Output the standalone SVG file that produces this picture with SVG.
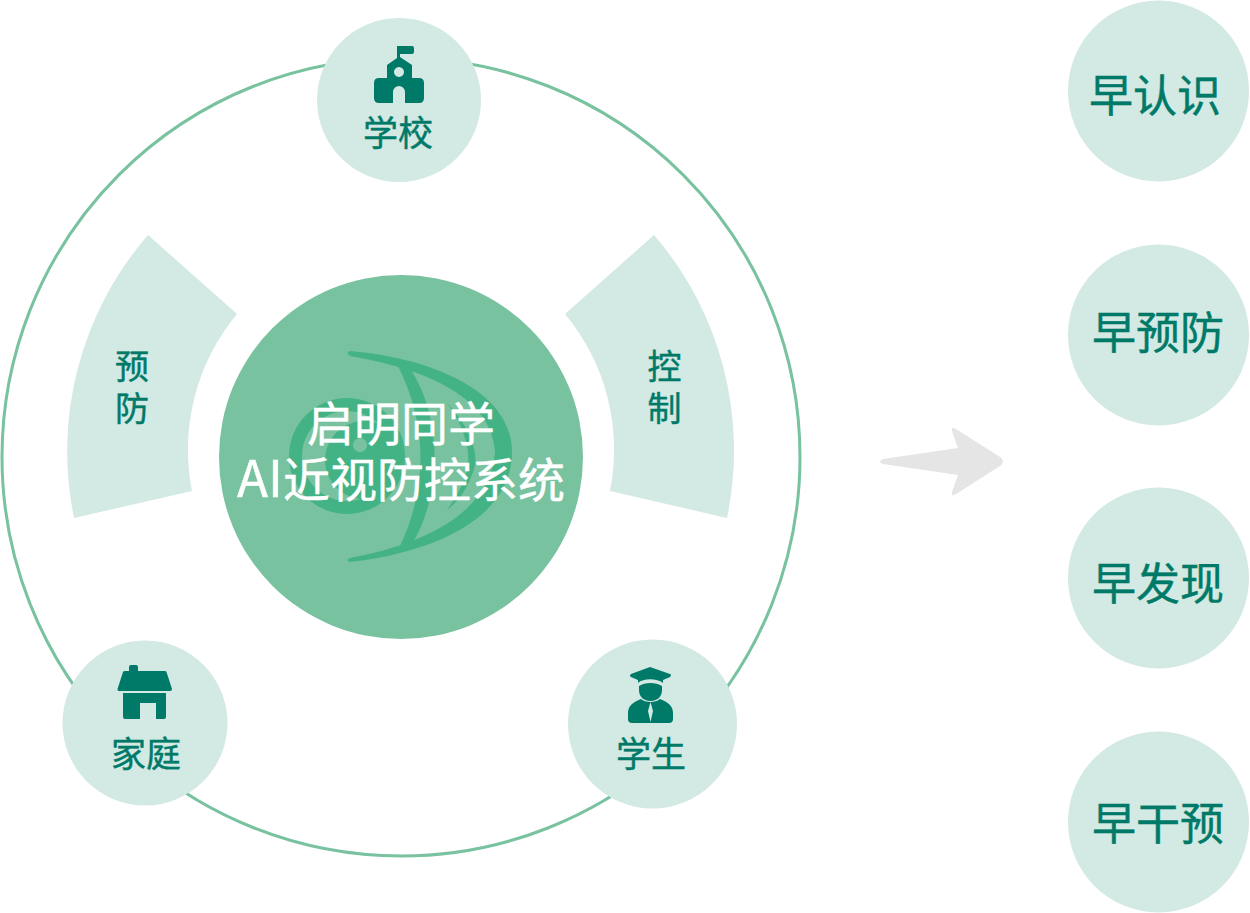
<svg xmlns="http://www.w3.org/2000/svg" width="1250" height="913" viewBox="0 0 1250 913">
<style>
.c{fill:#d3e9e3}
.t{font-family:"Noto Sans CJK SC","Noto Sans",sans-serif;fill:#007a68;stroke:#007a68;stroke-width:.45px;text-anchor:middle;font-weight:400}
.e{fill:#43b385}
.w{font-family:"Noto Sans CJK SC","Noto Sans",sans-serif;fill:#fff;stroke:#fff;stroke-width:.45px;text-anchor:middle;font-size:47px;font-weight:400}
.i{fill:#007a68}
</style>
<rect width="1250" height="913" fill="#fff"/>
<g id="connectors">
<circle cx="401" cy="457" r="399" fill="none" stroke="#78c2a0" stroke-width="3"/>
<path id="arrow" d="M883 459L958 448L952 431Q951 426 956 429L1000 457Q1006 461 1000 466L956 494Q951 497 952 492L958 475L883 464Q877 461.500 883 459Z" fill="#e5e5e5"/>
</g>
<g id="center">
<circle cx="401" cy="457" r="182" fill="#78c2a0"/>
<g id="eye">
<path class="e" fill-rule="evenodd" d="M347 398a58 58 0 1 0 .01 0ZM347 411a45 45 0 1 1 -.01 0Z"/>
<path class="e" fill-rule="evenodd" d="M364 421a39 39 0 1 0 .01 0ZM360 438a7 7 0 1 1 -.01 0Z"/>
<path class="e" d="M350 351C430 358 512 390 512 452C512 520 430 553 350 562Q345 560 350 558C420 545 490 515 495 452C492 395 420 368 350 356Q345 353 350 351Z"/>
<path class="e" d="M398 366L411 370C440 415 445 490 411 546L398 550C428 490 428 425 398 366Z"/>
<path class="e" d="M447 403C468 425 478 450 475 465C470 485 460 500 447 510C462 490 470 470 468 452C466 435 458 418 447 403Z"/>
</g>
<text class="w" x="401" y="441">启明同学</text>
<text class="w" x="401" y="497"><tspan font-size="51">AI</tspan>近视防控系统</text>
</g>
<g id="prevent">
<path class="c" d="M148 235L237 314A212 212 0 0 0 192 491L74 518A330 330 0 0 1 148 235Z"/>
<text class="t" x="132" y="379" font-size="34">预</text>
<text class="t" x="132" y="421" font-size="34">防</text>
</g>
<g id="control">
<path class="c" d="M654 235L565 314A212 212 0 0 1 610 491L727 518A330 330 0 0 0 654 235Z"/>
<text class="t" x="664.500" y="379" font-size="34">控</text>
<text class="t" x="664.500" y="421" font-size="34">制</text>
</g>
<g id="school">
<circle class="c" cx="399" cy="100" r="82"/>
<path class="i" fill-rule="evenodd" d="M397 46H412Q414 46 414 48V52Q414 54 412 54H400V57L412 65V78H419Q424 78 424 83V98Q424 103 419 103H405V92A6 6 0 0 0 393 92V103H379Q374 103 374 98V83Q374 78 379 78H387V65L397 58ZM399 67A5 5 0 1 0 399.010 67Z"/>
<text class="t" x="398" y="146" font-size="35">学校</text>
</g>
<g id="home">
<circle class="c" cx="145" cy="723" r="82.500"/>
<path class="i" d="M129 671V667Q129 665 131 665H136Q138 665 138 667V671H165Q166 671 166.500 672L172 689Q172 691 170 691H119Q117 691 117.500 689L123 672Q123.500 671 125 671Z"/>
<path class="i" d="M123 693H166V717Q166 719 164 719H156V703H140V719H125Q123 719 123 717Z"/>
<text class="t" x="146" y="767" font-size="35">家庭</text>
</g>
<g id="student">
<circle class="c" cx="652.500" cy="724" r="84.500"/>
<path class="i" d="M650 667L670 674Q672 675 670 677L663 680V683C657 678 643 678 638 683V680L631 677Q629 676 631 674Z"/>
<path class="i" d="M639 686C645 682 656 682 662 686V690C662 697 657 701 650.500 701C644 701 639 697 639 690Z"/>
<path class="i" d="M641 699C645 703 656 703 660 699C668 702 673 706 673 713V719Q673 723 669 723H632Q628 723 628 719V713C628 706 633 702 641 699ZM650.500 702L648 711L650.500 722L653 711Z" fill-rule="evenodd"/>
<text class="t" x="651" y="767" font-size="35">学生</text>
</g>
<g id="r1"><circle class="c" cx="1158.500" cy="91" r="90.500"/><text class="t" x="1155" y="112" font-size="44">早认识</text></g>
<g id="r2"><circle class="c" cx="1158.500" cy="335" r="90.500"/><text class="t" x="1158" y="349" font-size="44">早预防</text></g>
<g id="r3"><circle class="c" cx="1158.500" cy="578" r="90.500"/><text class="t" x="1158" y="600" font-size="44">早发现</text></g>
<g id="r4"><circle class="c" cx="1158.500" cy="822" r="90.500"/><text class="t" x="1158" y="840" font-size="44">早干预</text></g>
</svg>
